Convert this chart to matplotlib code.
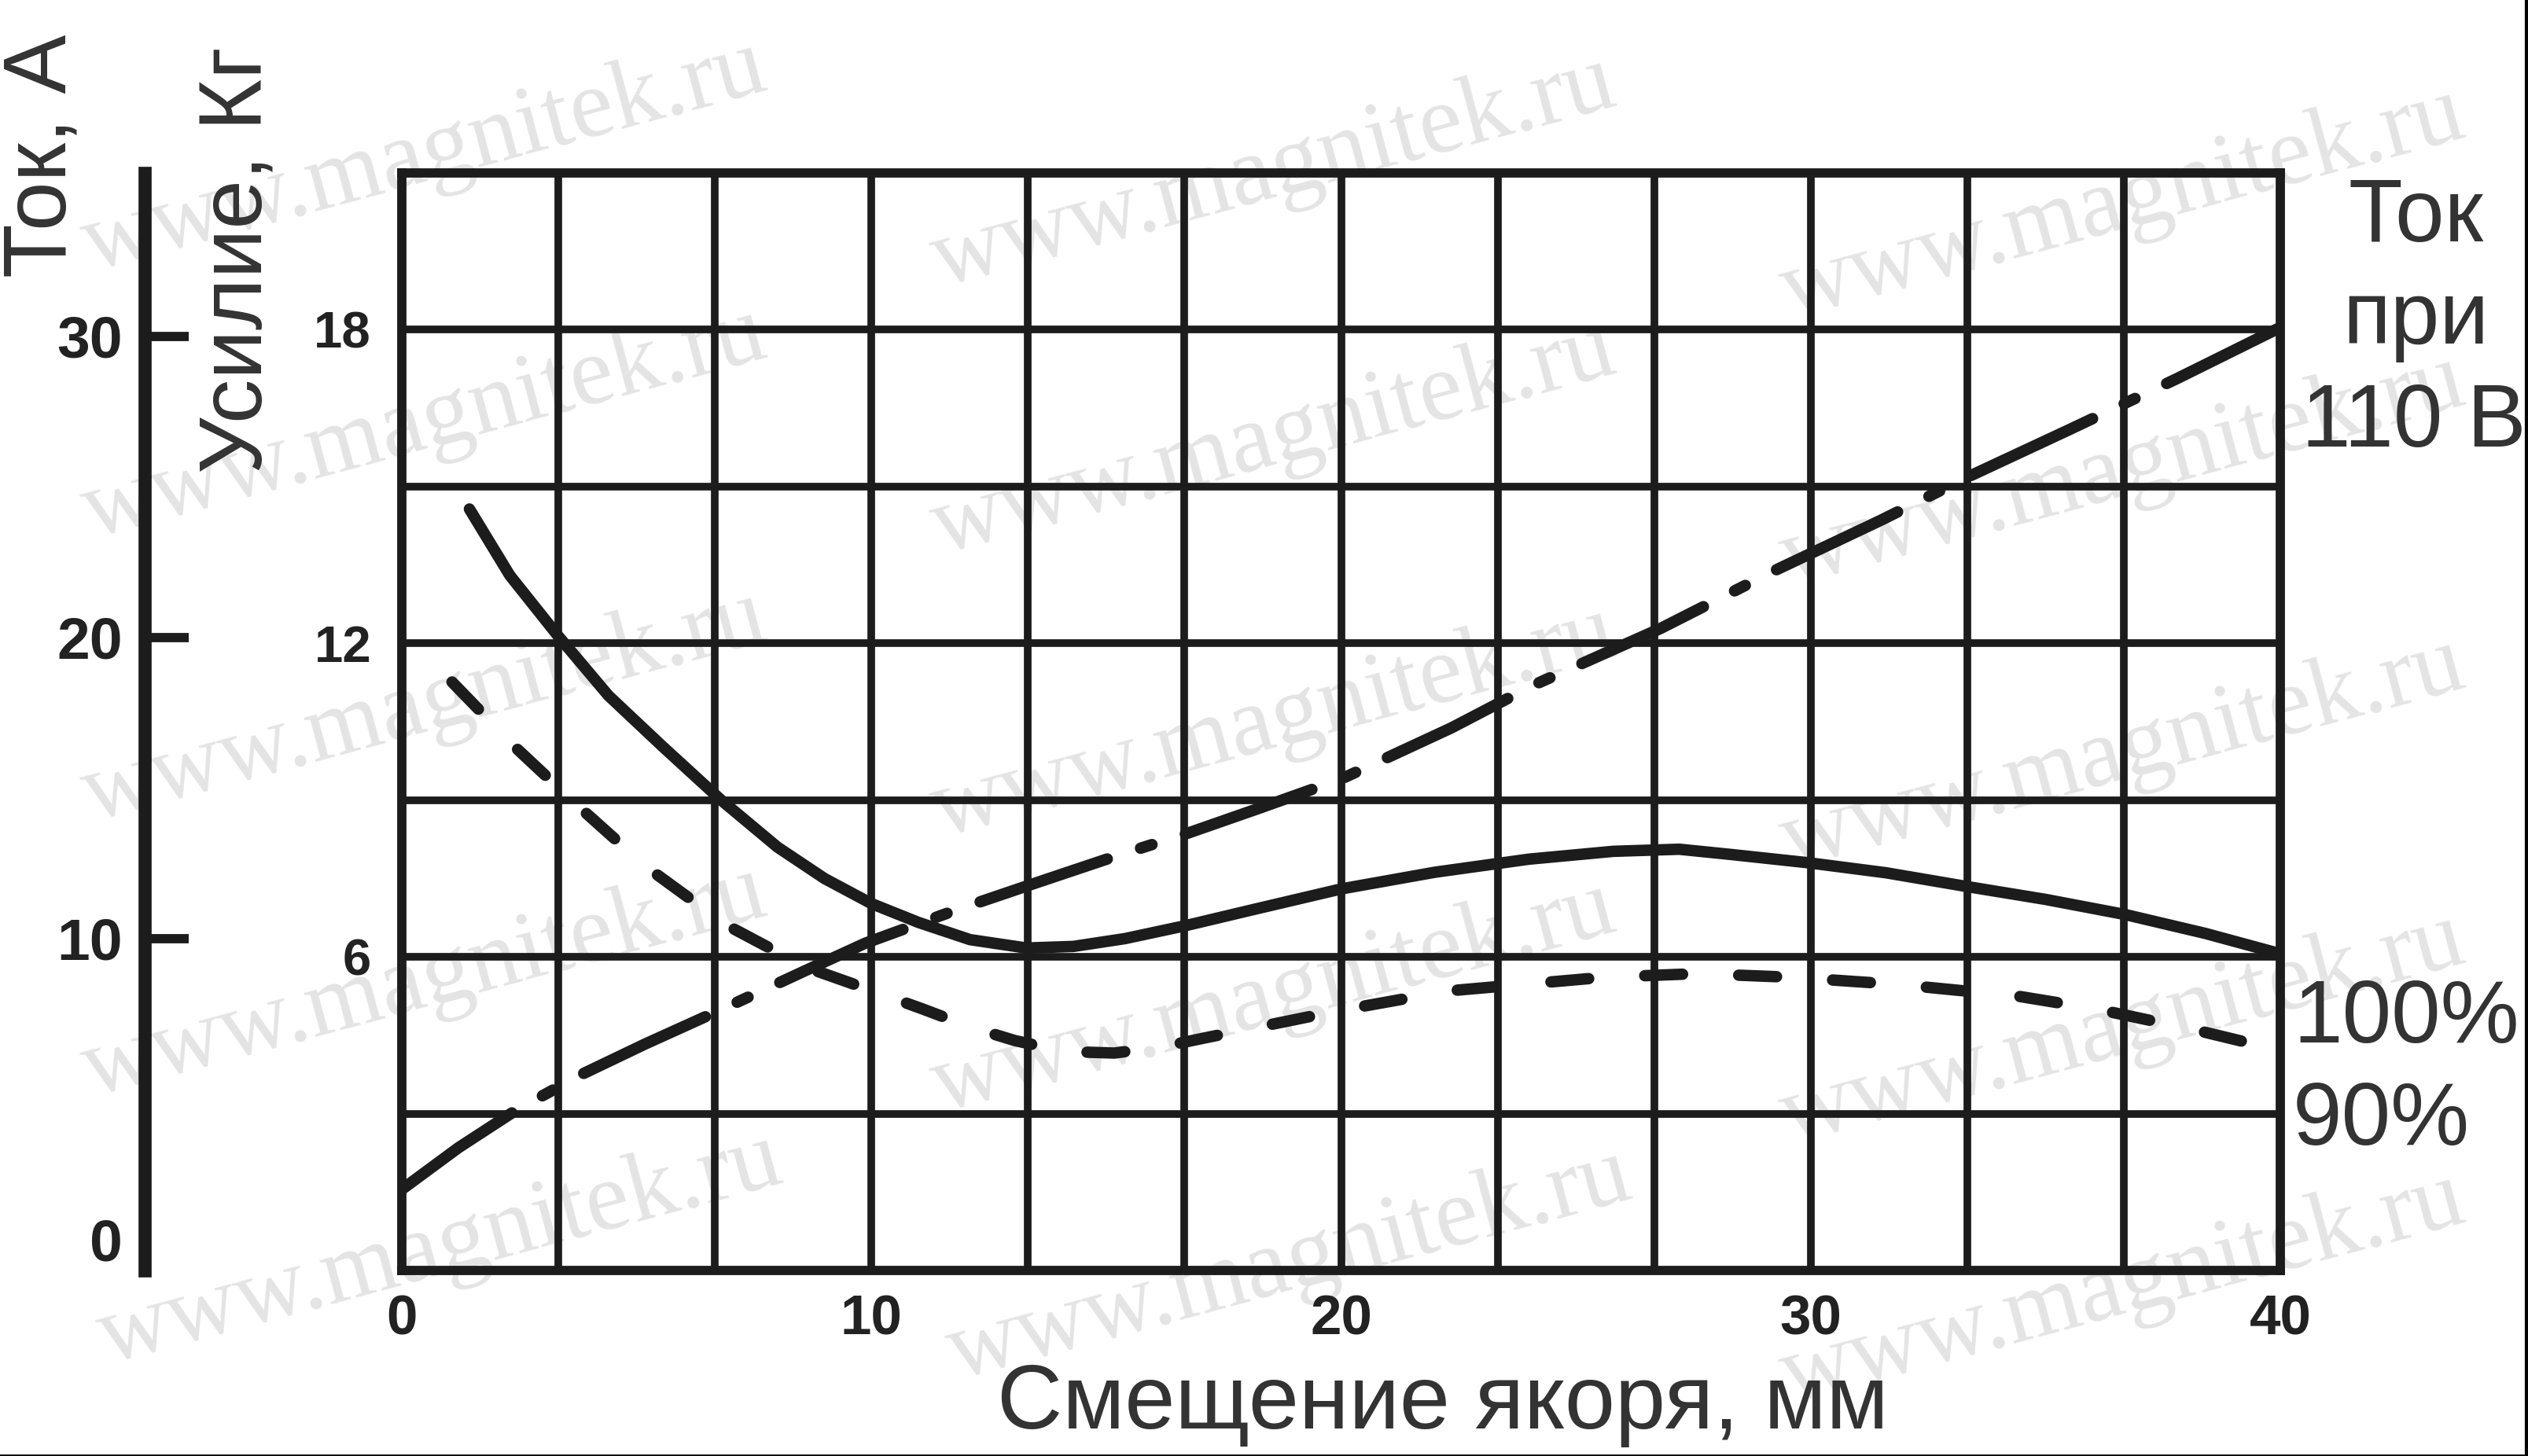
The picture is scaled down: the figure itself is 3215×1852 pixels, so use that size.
import matplotlib
matplotlib.use("Agg")
import matplotlib.pyplot as plt
from matplotlib.lines import Line2D

# ---------------- data ----------------
x_ticks = [0, 10, 20, 30, 40]
force_ticks = [6, 12, 18]
current_ticks = [0, 10, 20, 30]

# force at 100 % voltage (kg)
x_100 = [1.44, 2.3, 3.32, 4.4, 5.56, 6.8, 8.0, 9.0, 10.0, 11.0, 12.1, 13.3, 14.3, 15.4,
         16.7, 18.2, 20.0, 22.0, 24.0, 25.8, 27.2, 28.3, 29.96, 31.6, 33.3, 35.0, 36.7, 38.4, 40.0]
force_100 = [14.57, 13.3, 12.15, 11.0, 10.02, 9.0, 8.1, 7.5, 7.02, 6.66, 6.33, 6.17, 6.2, 6.35,
             6.6, 6.92, 7.3, 7.62, 7.87, 8.02, 8.06, 7.96, 7.80, 7.61, 7.35, 7.1, 6.81, 6.45, 6.06]

# force at 90 % voltage (kg)
x_90 = [1.07, 2.43, 3.8, 5.18, 6.89, 8.61, 9.87, 11.1, 12.1, 13.05, 14.1, 15.17, 16.2, 17.1,
        18.2, 20.0, 22.3, 25.6, 27.6, 29.6, 31.9, 34.4, 36.1, 38.2, 40.0]
force_90 = [11.26, 10.0, 8.85, 7.74, 6.62, 5.80, 5.40, 5.0, 4.66, 4.40, 4.19, 4.16, 4.28, 4.45,
            4.65, 4.98, 5.35, 5.61, 5.68, 5.61, 5.47, 5.25, 5.0, 4.6, 4.21]

# current at 110 V (A)
x_cur = [0, 1.2, 2.44, 3.84, 5.18, 6.88, 8.61, 9.87, 11.8, 13.5, 15.22, 16.73, 18.2, 20.0,
         22.35, 24.07, 26.8, 29.2, 31.5, 33.3, 35.5, 37.8, 40.0]
current_110 = [1.67, 3.05, 4.31, 5.5, 6.5, 7.7, 8.95, 9.85, 10.95, 11.85, 12.75, 13.5, 14.3, 15.3,
               17.0, 18.4, 20.3, 22.2, 23.9, 25.3, 26.9, 28.6, 30.3]

watermark_text = "www.magnitek.ru"
# watermark centres (pixels of the 3215x1852 image), kept fully inside the picture
wm_pos = [(540, 200), (1620, 220), (2700, 260),
          (540, 540), (1620, 560), (2700, 600),
          (540, 900), (1620, 920), (2700, 960),
          (540, 1250), (1620, 1270), (2700, 1310),
          (560, 1590), (1640, 1610), (2700, 1640)]

# ---------------- figure ----------------
W, H = 3215, 1852
fig = plt.figure(figsize=(W / 100, H / 100), dpi=100)
fig.patch.set_facecolor("white")

def fx(px):
    return px / W

def fy(py):
    return 1 - py / H

L, R, T, B = 511, 2900, 220, 1616
INK = "#1c1c1c"
TXT = "#333333"

# watermarks (behind everything)
for (px, py) in wm_pos:
    fig.text(fx(px), fy(py), watermark_text, rotation=15, ha="center", va="center",
             rotation_mode="anchor", fontsize=90, family="Liberation Serif",
             color="#e4e4e4", zorder=-5)

ax = fig.add_axes([fx(L), fy(B), (R - L) / W, (B - T) / H])
ax.set_facecolor("none")
ax.set_xlim(0, 40)
ax.set_ylim(0, 21)

ax.set_xticks(x_ticks)
ax.set_xticklabels([str(v) for v in x_ticks])
ax.set_yticks(force_ticks)
ax.set_yticklabels([str(v) for v in force_ticks])
ax.set_xticks([i * 10 / 3 for i in range(13)], minor=True)
ax.set_yticks([i * 3 for i in range(8)], minor=True)
ax.tick_params(which="both", length=0)
ax.tick_params(axis="x", pad=22, labelsize=51, labelcolor="#222222")
ax.tick_params(axis="y", pad=28, labelsize=47, labelcolor="#222222")
for lab in ax.get_xticklabels() + ax.get_yticklabels():
    lab.set_fontweight("bold")
    lab.set_family("Liberation Sans")
ax.grid(True, which="both", color=INK, lw=7)
for sp in ax.spines.values():
    sp.set_linewidth(8.5)
    sp.set_color(INK)

ax.plot(x_100, force_100, color=INK, lw=10.5, solid_capstyle="round", zorder=5)
ax.plot(x_90, force_90, color=INK, lw=10.5, linestyle=(0, (3.3, 4.9)),
        dash_capstyle="round", zorder=5)

axc = ax.twinx()
axc.set_ylim(-1.02, 35.43)
axc.set_axis_off()
axc.plot(x_cur, current_110, color=INK, lw=10.5, linestyle=(0, (11.7, 3.05, 1.05, 3.05)),
         dash_capstyle="round", zorder=5)

# separate current scale on the left
ax2 = fig.add_axes([fx(184), fy(B), 1e-4, (B - T) / H])
ax2.set_facecolor("none")
ax2.set_ylim(-1.02, 35.43)
ax2.set_xticks([])
for k in ["top", "right", "bottom"]:
    ax2.spines[k].set_visible(False)
ax2.spines["left"].set_linewidth(12)
ax2.spines["left"].set_color(INK)
ax2.set_yticks(current_ticks)
ax2.set_yticklabels([str(v) for v in current_ticks])
ax2.tick_params(axis="y", direction="in", length=40, width=8.5, color=INK, pad=20,
                labelsize=54, labelcolor="#222222")
for lab in ax2.get_yticklabels():
    lab.set_fontweight("bold")
    lab.set_family("Liberation Sans")
ax2.yaxis.get_major_ticks()[0].tick1line.set_visible(False)

# texts
big = dict(fontsize=81, color=TXT, family="Liberation Sans")
fig.text(fx(3072), fy(307), "Ток", ha="center", va="baseline", **big)
fig.text(fx(3072), fy(437), "при", ha="center", va="baseline", **big)
fig.text(fx(3070), fy(568), "110 В", ha="center", va="baseline", **big)
fig.text(fx(2916), fy(1326), "100%", ha="left", va="baseline", **big)
fig.text(fx(2916), fy(1456), "90%", ha="left", va="baseline", **big)
fig.text(fx(84), fy(198), "Ток, А", rotation=90, rotation_mode="anchor",
         ha="center", va="baseline", **big)
fig.text(fx(333), fy(331), "Усилие, Кг", rotation=90, rotation_mode="anchor",
         ha="center", va="baseline", **big)
fig.text(fx(1835), fy(1817), "Смещение якоря, мм", ha="center", va="baseline",
         fontsize=83, color=TXT, family="Liberation Sans")

# thin dark frame lines at right and bottom edges of the scan
fig.add_artist(Line2D([0, 1], [0.0008, 0.0008], transform=fig.transFigure, color="black", lw=2))
fig.add_artist(Line2D([0.9994, 0.9994], [0, 1], transform=fig.transFigure, color="black", lw=3))

fig.savefig("out.png", dpi=100, facecolor="white")
